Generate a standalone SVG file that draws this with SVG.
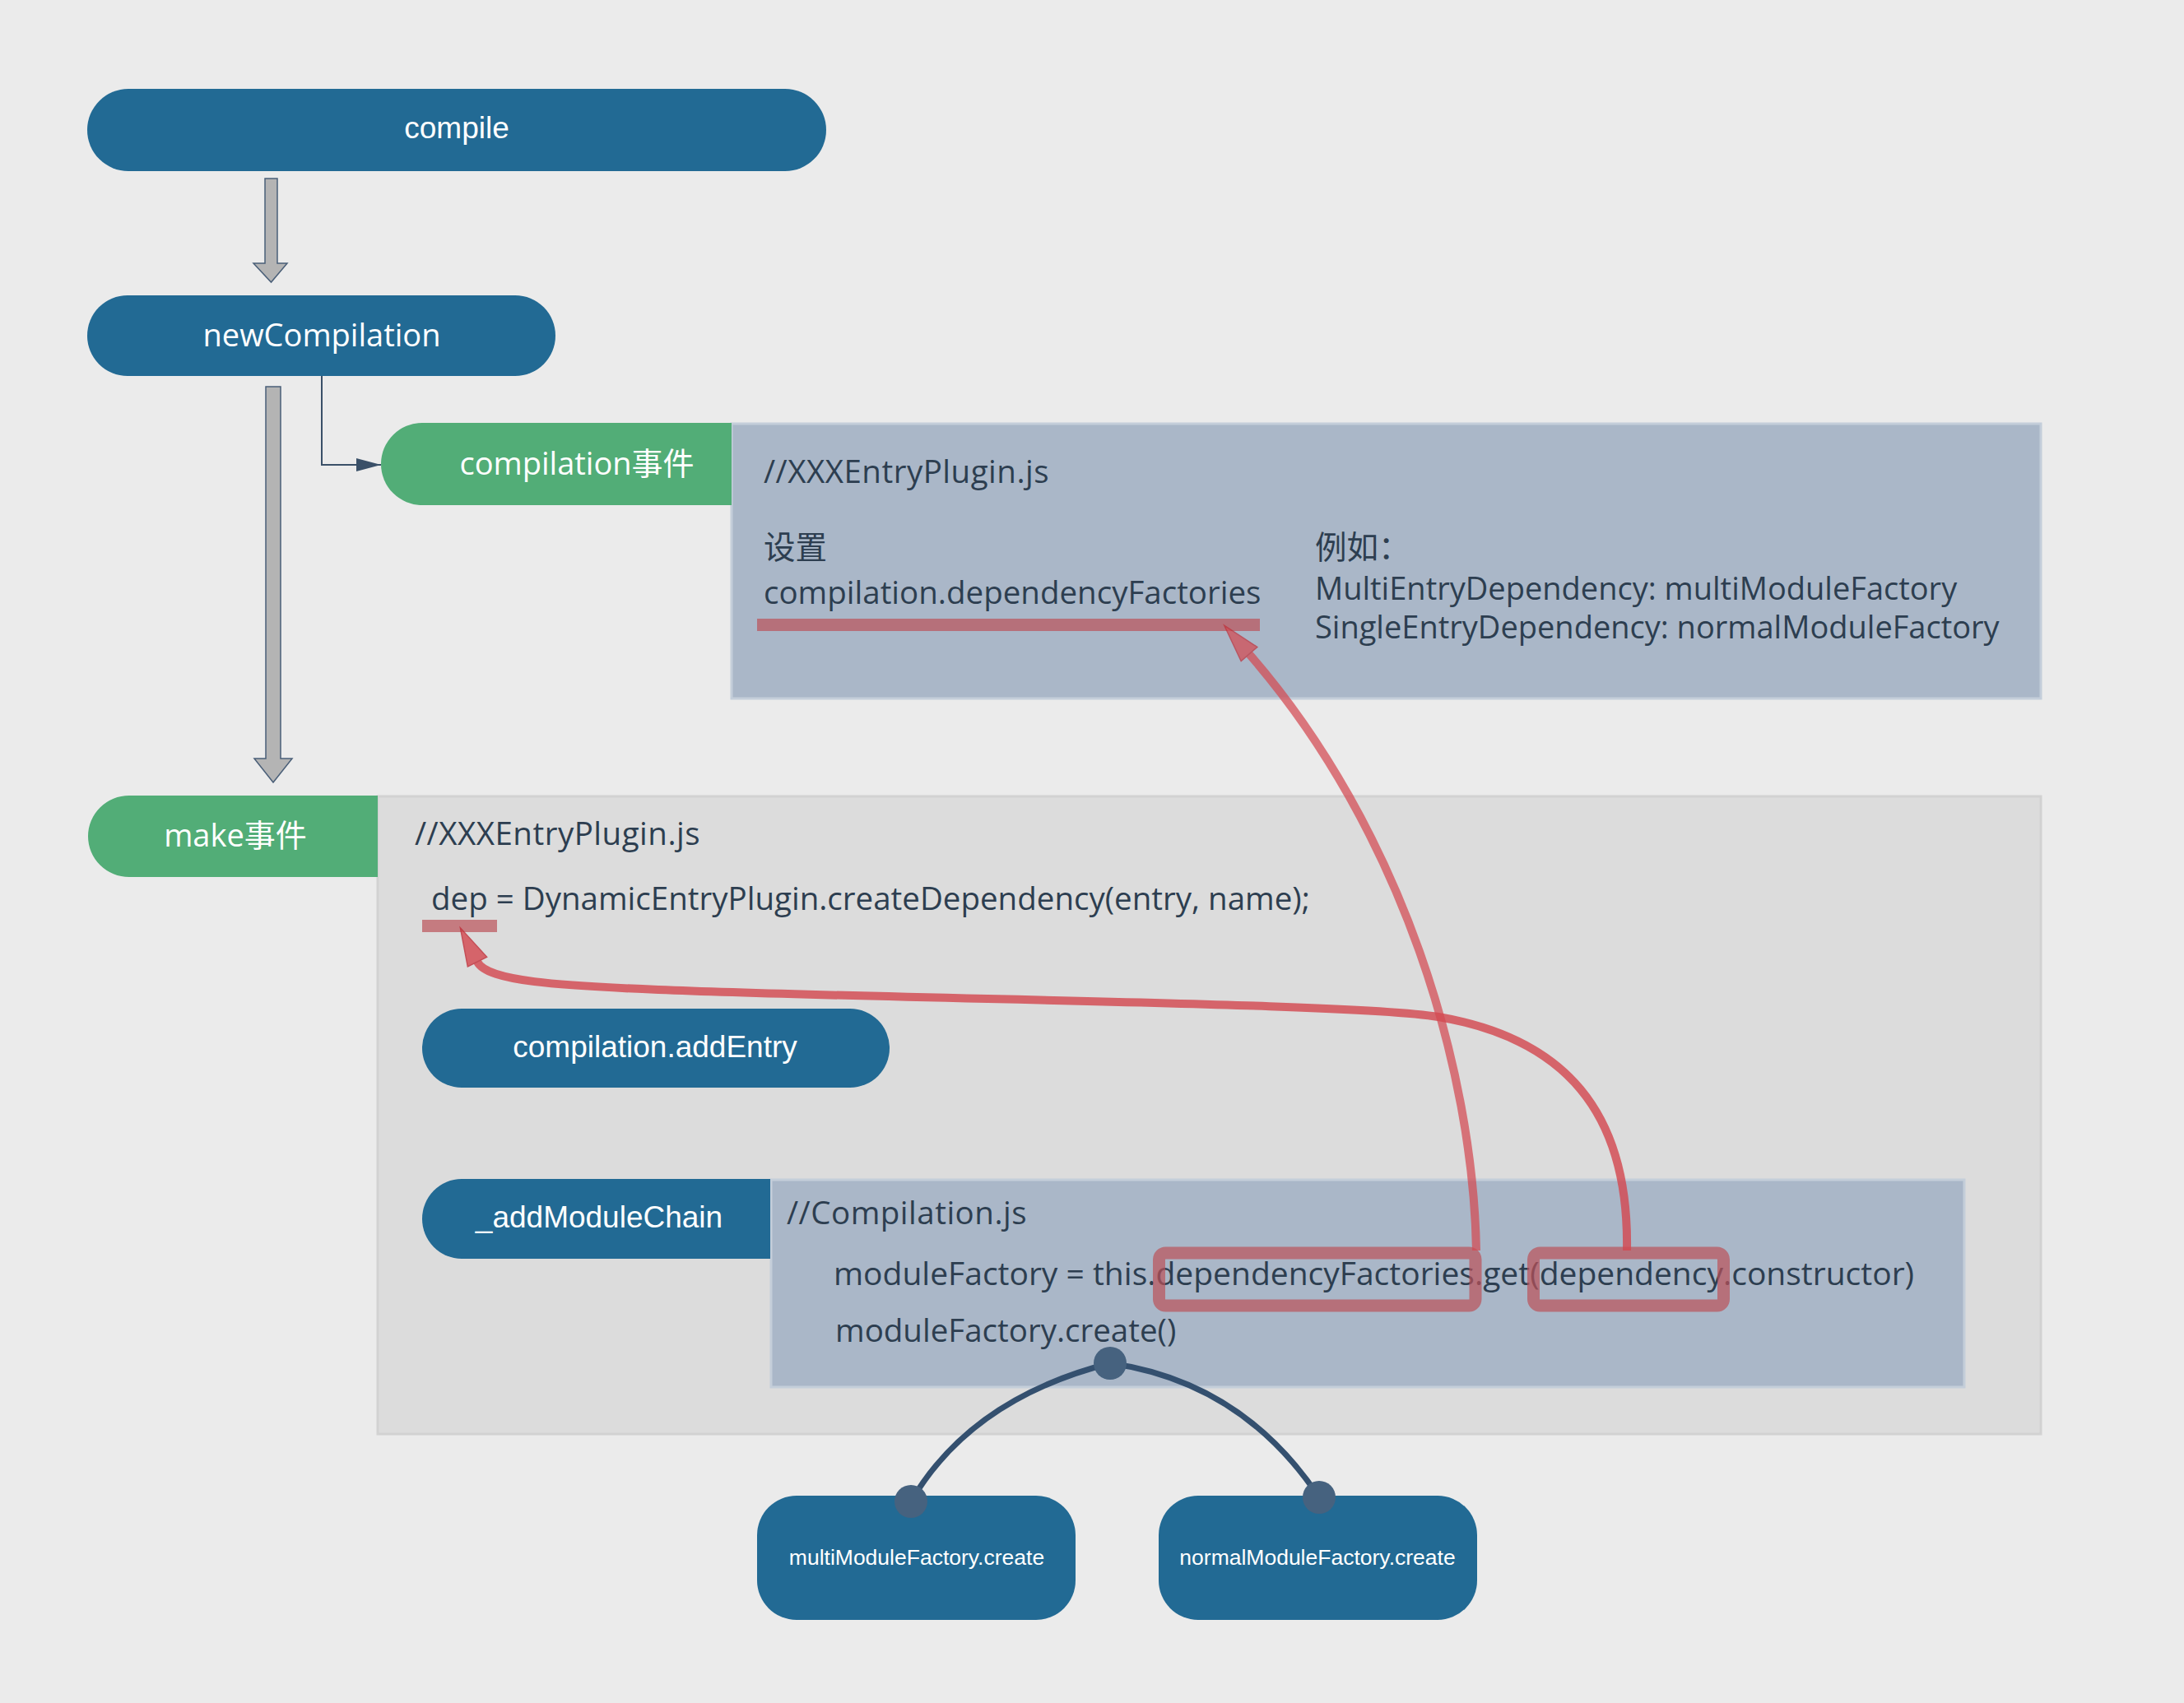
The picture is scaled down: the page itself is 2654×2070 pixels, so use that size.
<svg xmlns="http://www.w3.org/2000/svg" width="2654" height="2070" viewBox="0 0 2654 2070">
<defs>
<style>
.blue{fill:#226A94}
.green{fill:#52AD77}
.lbl{font-family:"Liberation Sans",Arial,sans-serif;font-size:37px;fill:#fff;text-anchor:middle}
.hlbl{font-family:"Open Sans","Noto Sans","Noto Sans CJK SC",sans-serif;font-size:38px;fill:#fff;text-anchor:middle}
.code{font-family:"Open Sans","Noto Sans","Noto Sans CJK SC",sans-serif;font-size:38.5px;fill:#2D3E50}
.small{font-family:"Liberation Sans",Arial,sans-serif;font-size:26.5px;fill:#fff;text-anchor:middle}
.hl{fill:#BA5158;opacity:0.7}
.hlbox{fill:none;stroke:#BA5158;stroke-width:15;opacity:0.7}
.red{fill:none;stroke:#D44A52;stroke-width:10}
.gray{fill:#B4B4B4;stroke:#4A5F78;stroke-width:1.5}
.dark{fill:none;stroke:#34506F;stroke-width:7}
.dot{fill:#46627F}
</style>
<marker id="redhead" markerUnits="userSpaceOnUse" markerWidth="50" markerHeight="32" refX="0" refY="16" orient="auto" overflow="visible">
<path d="M46,16 L0,3 L0,29 Z" fill="#D44A52" stroke="#C0303A" stroke-width="1.5"/>
</marker>
<marker id="darkhead" markerUnits="userSpaceOnUse" markerWidth="32" markerHeight="18" refX="30" refY="9" orient="auto">
<path d="M0,1 L30,9 L0,17 Z" fill="#3A5068"/>
</marker>
</defs>
<rect width="2654" height="2070" fill="#EBEBEB"/>

<g id="box-compilation-body">
<rect x="889" y="515" width="1591" height="334" fill="#AAB7C8" stroke="#C4CEDA" stroke-width="3"/>
<text class="code" x="928" y="587" letter-spacing="0.5">//XXXEntryPlugin.js</text>
<text class="code" x="928" y="679">设置</text>
<text class="code" x="928" y="734">compilation.dependencyFactories</text>
<rect class="hl" x="920" y="752" width="611" height="15"/>
<text class="code" x="1598" y="679">例如：</text>
<text class="code" x="1598" y="729" style="font-size:38px">MultiEntryDependency: multiModuleFactory</text>
<text class="code" x="1598" y="776" style="font-size:38px">SingleEntryDependency: normalModuleFactory</text>
</g>

<g id="box-make-body">
<rect x="459" y="968" width="2021" height="775" fill="#DCDCDC" stroke="#D2D2D2" stroke-width="3"/>
<text class="code" x="504" y="1027" letter-spacing="0.5">//XXXEntryPlugin.js</text>
<text class="code" x="524" y="1106">dep = DynamicEntryPlugin.createDependency(entry, name);</text>
<rect class="hl" x="513" y="1118" width="91" height="15"/>
</g>

<g id="box-compilation-js">
<rect x="937" y="1434" width="1450" height="252" fill="#AAB7C8" stroke="#C4CEDA" stroke-width="3"/>
<text class="code" x="956" y="1488" letter-spacing="0.5">//Compilation.js</text>
<text class="code" x="1013" y="1562" style="font-size:39px">moduleFactory = this.dependencyFactories.get(dependency.constructor)</text>
<text class="code" x="1015" y="1631">moduleFactory.create()</text>
<rect class="hlbox" x="1408.5" y="1523" width="384.5" height="64" rx="8"/>
<rect class="hlbox" x="1863.5" y="1523" width="231" height="64" rx="8"/>
</g>

<g id="node-compile">
<rect class="blue" x="106" y="108" width="898" height="100" rx="50"/>
<text class="lbl" x="555" y="168">compile</text>
</g>

<g id="node-newCompilation">
<rect class="blue" x="106" y="359" width="569" height="98" rx="49"/>
<text class="hlbl" x="391" y="421">newCompilation</text>
</g>

<g id="node-compilation-event">
<path class="green" d="M513,514 H889 V614 H513 A50,50 0 0 1 463,564 A50,50 0 0 1 513,514 Z"/>
<text class="hlbl" x="701" y="577">compilation事件</text>
</g>

<g id="node-make-event">
<path class="green" d="M157,967 H459 V1066 H157 A50,49.5 0 0 1 107,1016.5 A50,49.5 0 0 1 157,967 Z"/>
<text class="hlbl" x="286" y="1029">make事件</text>
</g>

<g id="node-addEntry">
<rect class="blue" x="513" y="1226" width="568" height="96" rx="48"/>
<text class="lbl" x="796" y="1285">compilation.addEntry</text>
</g>

<g id="node-addModuleChain">
<path class="blue" d="M561,1433 H936 V1530 H561 A48,48.5 0 0 1 513,1481.5 A48,48.5 0 0 1 561,1433 Z"/>
<text class="lbl" x="728" y="1492">_addModuleChain</text>
</g>

<g id="node-multiModuleFactory">
<rect class="blue" x="920" y="1818" width="387" height="151" rx="48"/>
<text class="small" x="1114" y="1902">multiModuleFactory.create</text>
</g>

<g id="node-normalModuleFactory">
<rect class="blue" x="1408" y="1818" width="387" height="151" rx="48"/>
<text class="small" x="1601" y="1902">normalModuleFactory.create</text>
</g>

<g id="connectors">
<polygon class="gray" points="322,217 337,217 337,320 349,320 329.5,343 308,320 322,320"/>
<polygon class="gray" points="323,470 341,470 341,922 355,922 332,951 309,922 323,922"/>
<path d="M391,457 V565 H463" fill="none" stroke="#3A5068" stroke-width="2" marker-end="url(#darkhead)"/>
<g opacity="0.72">
<path class="red" d="M1794,1520 C1790,1300 1705,1010 1518,795" marker-end="url(#redhead)"/>
</g>
<g opacity="0.82">
<path class="red" d="M1977,1520 C1980,1350 1900,1262 1748,1236 C1650,1219 1100,1215 800,1203 C680,1198 592,1193 580,1169" marker-end="url(#redhead)"/>
</g>
<path class="dark" d="M1349,1657 Q1180,1700 1107,1825"/>
<path class="dark" d="M1349,1657 Q1510,1680 1603,1820"/>
<circle class="dot" cx="1349" cy="1657" r="20"/>
<circle class="dot" cx="1107" cy="1825" r="20"/>
<circle class="dot" cx="1603" cy="1820" r="20"/>
</g>
</svg>
